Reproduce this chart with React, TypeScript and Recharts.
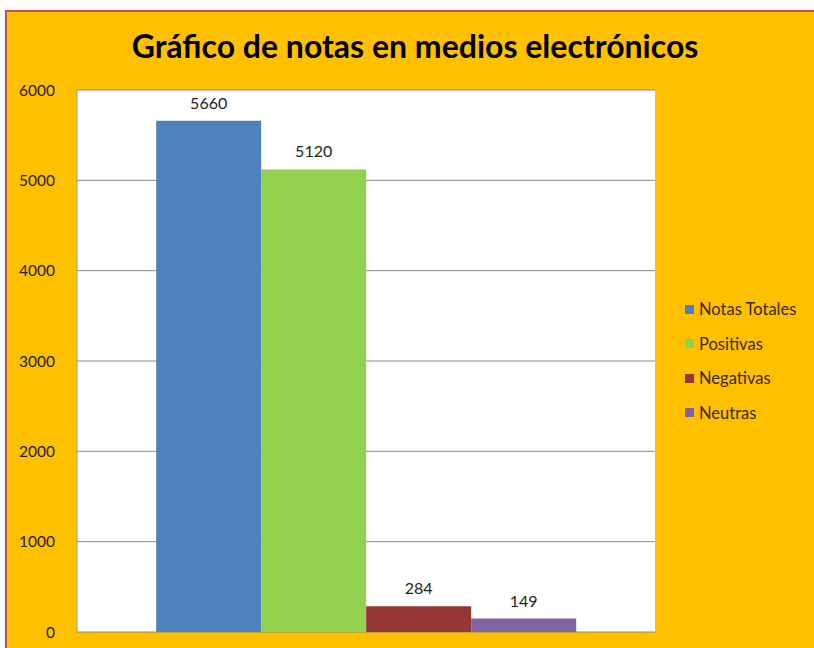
import { BarChart, Bar, YAxis, XAxis, CartesianGrid, Legend, LabelList } from 'recharts'

const categories = ['Notas']
const seriesNames = ['Notas Totales', 'Positivas', 'Negativas', 'Neutras']
const seriesKeys = ['total', 'positivas', 'negativas', 'neutras']
const seriesValues = [5660, 5120, 284, 149]
const seriesColors = ['#4F81BD', '#92D050', '#953735', '#8064A2']
const yTicks = [0, 1000, 2000, 3000, 4000, 5000, 6000]

const data = categories.map((name) => {
  const row: Record<string, string | number> = { name }
  seriesKeys.forEach((k, i) => {
    row[k] = seriesValues[i]
  })
  return row
})

const font = 'Lato, "Open Sans", sans-serif'

function LegendBox() {
  return (
    <div style={{ fontFamily: font, fontSize: 16.5 }}>
      {seriesNames.map((n, i) => (
        <div key={n} style={{ display: 'flex', alignItems: 'center', height: 34.5, color: '#3a2a10' }}>
          <span style={{ width: 9, height: 9, background: seriesColors[i], marginRight: 5 }} />
          {n}
        </div>
      ))}
    </div>
  )
}

export default function App() {
  return (
    <div style={{ position: 'absolute', left: 0, top: 0, width: 814, height: 648, background: '#fff', overflow: 'hidden' }}>
      <div
        style={{
          position: 'absolute',
          left: 5,
          top: 10,
          width: 820,
          height: 650,
          background: '#FFC000',
          borderLeft: '2px solid #C0504D',
          borderTop: '2px solid #C0504D',
        }}
      />
      <div
        style={{
          position: 'absolute',
          left: 0,
          top: 26,
          width: 830,
          textAlign: 'center',
          fontFamily: font,
          fontWeight: 700,
          fontSize: 32,
          color: '#000',
        }}
      >
        Gráfico de notas en medios electrónicos
      </div>
      <div style={{ position: 'absolute', left: 0, top: 0 }}>
        <BarChart
          width={814}
          height={648}
          data={data}
          margin={{ top: 90, right: 29, bottom: 16, left: 0 }}
          barCategoryGap="13.7%"
          barGap={0}
        >
          <CartesianGrid vertical={false} stroke="#8a8a8a" fill="#ffffff" />
          <XAxis dataKey="name" hide />
          <YAxis
            width={77}
            domain={[0, 6000]}
            ticks={yTicks}
            interval={0}
            tickLine={false}
            axisLine={{ stroke: '#9a9a9a' }}
            tickMargin={16}
            tick={{ fill: '#222', fontSize: 15.5, fontFamily: font }}
          />
          <Legend
            layout="vertical"
            align="right"
            verticalAlign="middle"
            wrapperStyle={{ left: 685, top: 292, width: 130 }}
            content={() => <LegendBox />}
          />
          {seriesKeys.map((k, i) => (
            <Bar key={k} dataKey={k} name={seriesNames[i]} fill={seriesColors[i]} isAnimationActive={false}>
              <LabelList dataKey={k} position="top" offset={12} fill="#222" fontSize={16} fontFamily={font} />
            </Bar>
          ))}
        </BarChart>
      </div>
    </div>
  )
}
